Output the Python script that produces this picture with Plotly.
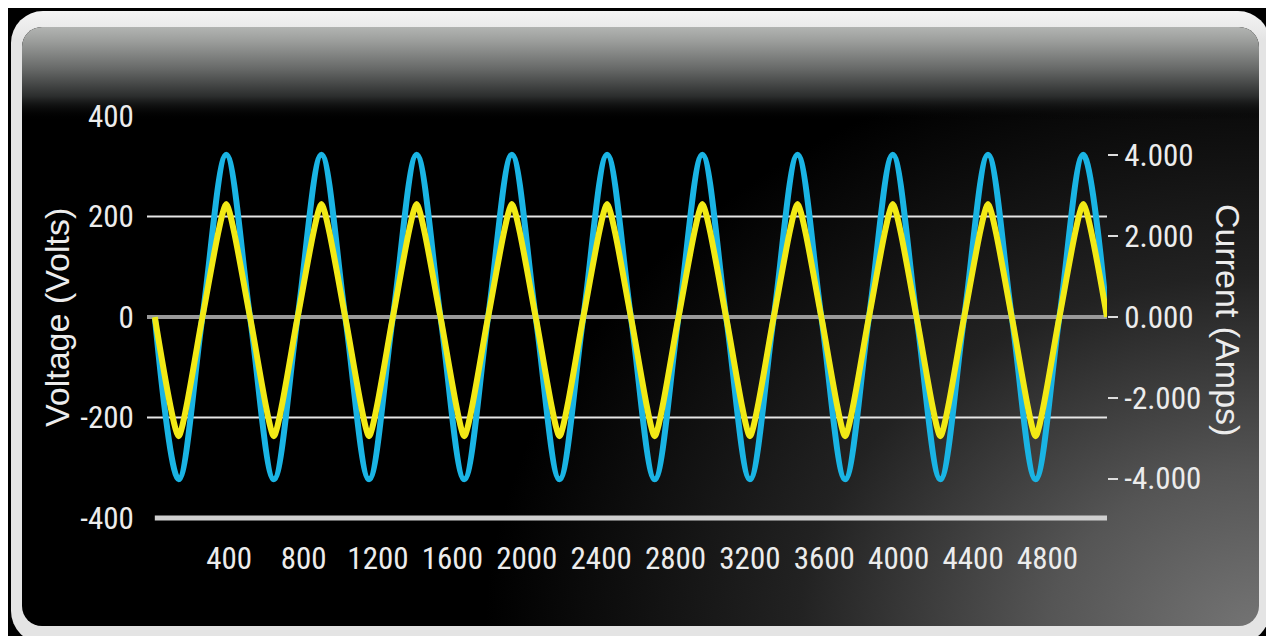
import base64
import plotly.graph_objects as go

# ---------------- data ----------------
SAMPLE_X = [0, 128, 256, 384, 512, 640, 768, 896, 1024, 1152, 1280, 1408, 1536, 1664,
            1792, 1920, 2048, 2176, 2304, 2432, 2560, 2688, 2816, 2944, 3072, 3200,
            3328, 3456, 3584, 3712, 3840, 3968, 4096, 4224, 4352, 4480, 4608, 4736,
            4864, 4992, 5120]
VOLTAGE = [0, -323, 0, 323, 0, -323, 0, 323, 0, -323, 0, 323, 0, -323, 0, 323, 0, -323,
           0, 323, 0, -323, 0, 323, 0, -323, 0, 323, 0, -323, 0, 323, 0, -323, 0, 323,
           0, -323, 0, 323, 0]
CURRENT = [0, -2.95, 0, 2.8, 0, -2.95, 0, 2.8, 0, -2.95, 0, 2.8, 0, -2.95, 0, 2.8, 0,
           -2.95, 0, 2.8, 0, -2.95, 0, 2.8, 0, -2.95, 0, 2.8, 0, -2.95, 0, 2.8, 0, -2.95,
           0, 2.8, 0, -2.95, 0, 2.8, 0]
X_TICKS = [400, 800, 1200, 1600, 2000, 2400, 2800, 3200, 3600, 4000, 4400, 4800]
V_TICKS = [-400, -200, 0, 200, 400]
V_TICK_TEXT = ["-400", "-200", "0", "200", "400"]
A_TICKS = [-4, -2, 0, 2, 4]
A_TICK_TEXT = ["-4.000", "-2.000", "0.000", "2.000", "4.000"]
V_GRID = [200, -200]

# page has an 8px body margin, so the figure is 8px smaller than the window
W, H = 1266, 628
ML, MR, MT, MB = 139, 167, 103, 113
PW, PH = W - ML - MR, H - MT - MB

NARROW = "Roboto Condensed, Liberation Sans Narrow, Arial Narrow, sans-serif"
REG = "Liberation Sans, Arial, sans-serif"
TXT = "#ececec"

# ---------------- background panel as an SVG image ----------------
svg = f'''<svg xmlns="http://www.w3.org/2000/svg" width="{W}" height="{H}" viewBox="0 0 {W} {H}">
<defs>
 <linearGradient id="top" gradientUnits="userSpaceOnUse" x1="0" y1="19" x2="0" y2="112">
  <stop offset="0" stop-color="#b2b4b2" stop-opacity="1"/>
  <stop offset="0.15" stop-color="#9c9e9c" stop-opacity="1"/>
  <stop offset="0.45" stop-color="#676968" stop-opacity="1"/>
  <stop offset="0.75" stop-color="#2a2c2c" stop-opacity="1"/>
  <stop offset="1" stop-color="#000000" stop-opacity="0"/>
 </linearGradient>
 <linearGradient id="border" gradientUnits="userSpaceOnUse" x1="0" y1="3" x2="0" y2="32">
  <stop offset="0" stop-color="#f4f4f4"/>
  <stop offset="1" stop-color="#e4e4e4"/>
 </linearGradient>
 <radialGradient id="glow" gradientUnits="userSpaceOnUse" cx="1257" cy="632" r="780"
   gradientTransform="translate(1257 632) scale(1 0.78) translate(-1257 -632)">
  <stop offset="0" stop-color="#767676"/>
  <stop offset="0.28" stop-color="#555555"/>
  <stop offset="0.6" stop-color="#222222"/>
  <stop offset="1" stop-color="#000000"/>
 </radialGradient>
 <clipPath id="inner"><rect x="14" y="19" width="1237" height="599" rx="20" ry="20"/></clipPath>
</defs>
<rect x="0" y="0" width="{W}" height="{H}" fill="#000000"/>
<rect x="3" y="3" width="1259" height="632" rx="32" ry="32" fill="url(#border)"/>
<g clip-path="url(#inner)">
 <rect x="14" y="19" width="1237" height="599" fill="url(#glow)"/>
 <rect x="14" y="19" width="1237" height="100" fill="url(#top)"/>
</g>
</svg>'''
src = "data:image/svg+xml;base64," + base64.b64encode(svg.encode()).decode()

fig = go.Figure()
fig.add_trace(go.Scatter(x=SAMPLE_X, y=VOLTAGE, mode="lines", name="Voltage",
                         line=dict(color="#1ab4e4", width=6, shape="spline", smoothing=1.0),
                         hoverinfo="skip", yaxis="y"))
fig.add_trace(go.Scatter(x=SAMPLE_X, y=CURRENT, mode="lines", name="Current",
                         line=dict(color="#f2ea16", width=6, shape="spline", smoothing=0.55),
                         hoverinfo="skip", yaxis="y2"))

shapes = []
for g in V_GRID:
    shapes.append(dict(type="line", xref="paper", x0=0, x1=1, yref="y", y0=g, y1=g,
                       line=dict(color="#e6e6e6", width=2), layer="below"))
shapes.append(dict(type="line", xref="paper", x0=0, x1=1, yref="y", y0=0, y1=0,
                   line=dict(color="#9a9a9a", width=4), layer="below"))
shapes.append(dict(type="line", xref="x", x0=SAMPLE_X[0], x1=SAMPLE_X[-1], yref="y",
                   y0=V_TICKS[0], y1=V_TICKS[0], line=dict(color="#cfcfcf", width=5),
                   layer="below"))

fig.update_layout(
    width=W, height=H,
    margin=dict(l=ML, r=MR, t=MT, b=MB),
    paper_bgcolor="#000000", plot_bgcolor="rgba(0,0,0,0)",
    showlegend=False,
    images=[dict(source=src, xref="paper", yref="paper", x=-ML / PW, y=1 + MT / PH,
                 sizex=W / PW, sizey=H / PH, sizing="stretch", xanchor="left",
                 yanchor="top", layer="below")],
    shapes=shapes,
    xaxis=dict(range=[-42, 5120], tickvals=X_TICKS, showgrid=False, zeroline=False,
               showline=False, ticks="outside", ticklen=8, tickcolor="rgba(0,0,0,0)",
               tickfont=dict(family=NARROW, size=31, color=TXT)),
    yaxis=dict(range=[-410, 410], tickvals=V_TICKS, ticktext=V_TICK_TEXT, showgrid=False,
               zeroline=False, showline=False, ticks="outside", ticklen=6,
               tickcolor="rgba(0,0,0,0)", tickfont=dict(family=NARROW, size=31, color=TXT)),
    yaxis2=dict(range=[-410 / 80.4, 410 / 80.4], overlaying="y", side="right",
                tickvals=A_TICKS, ticktext=A_TICK_TEXT, showgrid=False, zeroline=False,
                showline=False, ticks="outside", ticklen=10, tickwidth=1.5,
                tickcolor="#dddddd", tickfont=dict(family=NARROW, size=31, color=TXT)),
    annotations=[
        dict(text="Voltage (Volts)", xref="paper", yref="paper", x=(49 - ML) / PW,
             y=(H - MB - 5 - 305) / PH, showarrow=False, textangle=-90,
             font=dict(family=REG, size=34, color=TXT), xanchor="center", yanchor="middle"),
        dict(text="Current (Amps)", xref="paper", yref="paper", x=(1220 - ML) / PW,
             y=(H - MB - 5 - 307) / PH, showarrow=False, textangle=90,
             font=dict(family=REG, size=34, color=TXT), xanchor="center", yanchor="middle"),
    ],
)

fig.write_html("out.html")
